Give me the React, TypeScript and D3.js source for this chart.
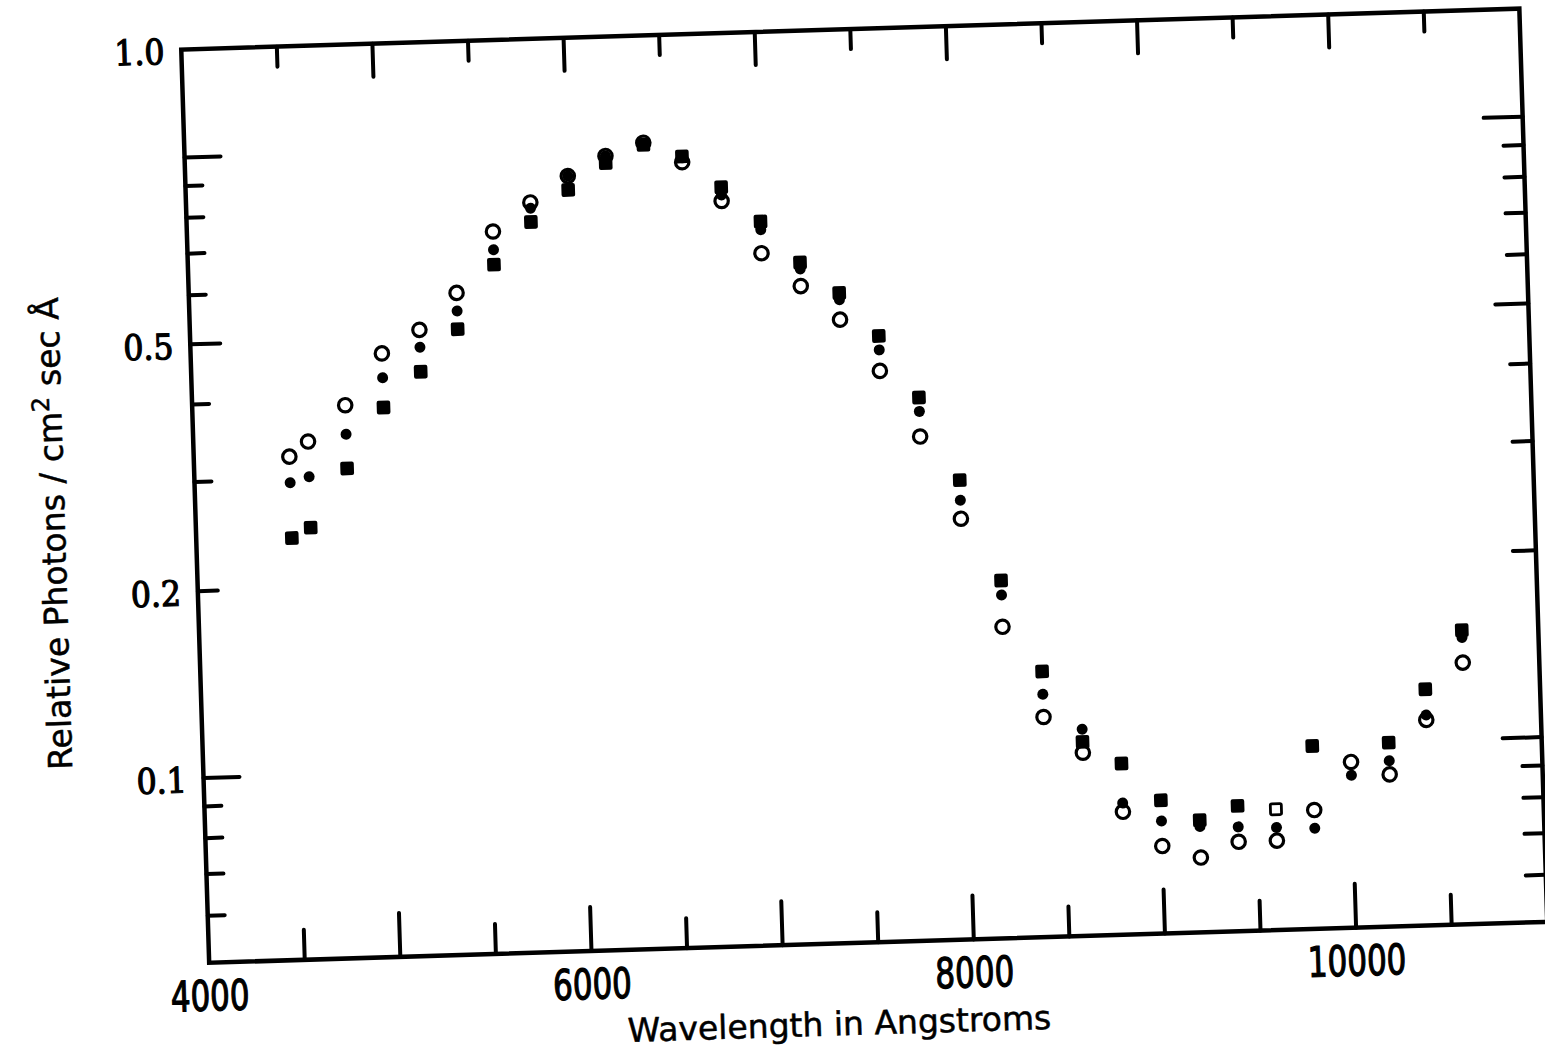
import React from "react";
import * as d3 from "d3";

// wavelengths (Angstrom) of the measured columns
const wavelengths = [
  4500, 4600, 4800, 5000, 5200, 5400, 5600, 5800, 6000, 6200, 6400, 6600, 6800, 7000, 7200, 7400,
  7600, 7800, 8000, 8200, 8400, 8600, 8800, 9000, 9200, 9400, 9600, 9800, 10000, 10200, 10400, 10600,
];

// open circles
const openCircleValues = [
  0.326, 0.344, 0.392, 0.473, 0.514, 0.587, 0.734, 0.814, 0.894, 0.959, 1.003, 0.929, 0.801, 0.657, 0.579, 0.509,
  0.419, 0.327, 0.24, 0.16, 0.114, 0.0994, 0.0795, 0.0697, 0.0665, 0.0702, 0.0702, 0.0783, 0.0932, 0.0886, 0.108, 0.133,
];

// small filled dots
const dotValues = [
  0.296, 0.302, 0.352, 0.432, 0.482, 0.549, 0.686, 0.797, 0.894, 0.959, 1.002, 0.944, 0.819, 0.717, 0.617, 0.548,
  0.453, 0.359, 0.257, 0.18, 0.124, 0.1085, 0.0821, 0.0765, 0.0746, 0.0742, 0.0737, 0.0732, 0.0887, 0.0932, 0.11, 0.146,
];

// filled squares (null = no square at that wavelength)
const squareValues = [
  0.241, 0.25, 0.31, 0.387, 0.44, 0.513, 0.649, 0.757, 0.849, 0.934, 0.995, 0.949, 0.843, 0.739, 0.632, 0.562,
  0.477, 0.378, 0.277, 0.19, 0.135, 0.1035, 0.0951, 0.0826, 0.0764, 0.0802, null, 0.0993, null, 0.0997, 0.121, 0.15,
];

// the single open square
const openSquareWavelengths = [9600];
const openSquareValues = [0.0789];

// axes
const xDomain = [4000, 11000];
const yDomain = [0.05038, 1.4927];
const xMajorTicks = [5000, 6000, 7000, 8000, 9000, 10000];
const xMinorTicks = [4500, 5500, 6500, 7500, 8500, 9500, 10500];
const xTickLabels = ["4000", "6000", "8000", "10000"];
const xTickLabelValues = [4000, 6000, 8000, 10000];
const yTicks = [1.0, 0.9, 0.8, 0.7, 0.6, 0.5, 0.4, 0.3, 0.2, 0.1, 0.09, 0.08, 0.07, 0.06];
const yTickLabels = ["1.0", "0.5", "0.2", "0.1"];
// "1.0" is printed at the top of the frame in the original figure
const yTickLabelValues = [yDomain[1], 0.5, 0.2, 0.1];

const W = 1545;
const H = 1058;
const plot = { left: 194.9, right: 1533.6, top: 29, bottom: 942.6 };

const App = () => {
  const x = d3.scaleLinear().domain(xDomain).range([plot.left, plot.right]);
  const y = d3.scaleLog().domain(yDomain).range([plot.bottom, plot.top]);

  const yTickLen = (v: number) =>
    v === 1 || v === 0.1 ? 36 : v === 0.5 ? 30 : v === 0.2 ? 20 : 17;

  const tickStyle = { stroke: "#000", strokeWidth: 4, strokeLinecap: "round" as const };
  const numFont = "'Liberation Sans Narrow', 'DejaVu Sans Condensed', sans-serif";
  const yNumFont = "'DejaVu Serif Condensed', 'DejaVu Serif', serif";
  const titleFont = "'DejaVu Sans', sans-serif";

  return (
    <svg
      width={W}
      height={H}
      style={{ position: "absolute", left: 0, top: 0, background: "#fff" }}
    >
      <g transform="rotate(-1.75 861.5 485.75)">
        <rect
          x={plot.left}
          y={plot.top}
          width={plot.right - plot.left}
          height={plot.bottom - plot.top}
          fill="none"
          stroke="#000"
          strokeWidth={4.5}
        />

        {/* x ticks, bottom and top, pointing inward */}
        {xMajorTicks.map((t) => (
          <g key={"xM" + t}>
            <line x1={x(t)} x2={x(t)} y1={plot.bottom} y2={plot.bottom - 44} {...tickStyle} />
            <line x1={x(t)} x2={x(t)} y1={plot.top} y2={plot.top + 33} {...tickStyle} />
          </g>
        ))}
        {xMinorTicks.map((t) => (
          <g key={"xm" + t}>
            <line x1={x(t)} x2={x(t)} y1={plot.bottom} y2={plot.bottom - 30} {...tickStyle} />
            <line x1={x(t)} x2={x(t)} y1={plot.top} y2={plot.top + 20} {...tickStyle} />
          </g>
        ))}

        {/* y ticks, left and right */}
        {yTicks.map((t) => (
          <g key={"y" + t}>
            <line x1={plot.left} x2={plot.left + yTickLen(t)} y1={y(t)} y2={y(t)} {...tickStyle} />
            <line
              x1={plot.right}
              x2={plot.right - yTickLen(t) - 3}
              y1={y(t)}
              y2={y(t)}
              {...tickStyle}
            />
          </g>
        ))}

        {/* tick labels */}
        {xTickLabels.map((lab, i) => (
          <text
            key={"xl" + lab}
            transform={`translate(${x(xTickLabelValues[i])},${plot.bottom + 33}) scale(0.82,1)`}
            textAnchor="middle"
            dominantBaseline="central"
            fontFamily={numFont}
            fontSize={42}
            stroke="#000"
            strokeWidth={1.2}
          >
            {lab}
          </text>
        ))}
        {yTickLabels.map((lab, i) => (
          <text
            key={"yl" + lab}
            x={plot.left - 17}
            y={y(yTickLabelValues[i]) + 2}
            textAnchor="end"
            dominantBaseline="central"
            fontFamily={yNumFont}
            fontSize={35}
            stroke="#000"
            strokeWidth={1.2}
          >
            {lab}
          </text>
        ))}

        {/* axis titles */}
        <text
          x={823}
          y={1023}
          textAnchor="middle"
          dominantBaseline="central"
          fontFamily={titleFont}
          fontSize={33}
          stroke="#000"
          strokeWidth={0.5}
        >
          Wavelength in Angstroms
        </text>
        <text
          transform="translate(64,509) rotate(-90)"
          textAnchor="middle"
          fontFamily={titleFont}
          fontSize={33}
          stroke="#000"
          strokeWidth={0.5}
        >
          Relative Photons / cm
          <tspan dy={-12} fontSize={24}>
            2
          </tspan>
          <tspan dy={12}> sec Å</tspan>
        </text>

        {/* filled squares */}
        {wavelengths.map((w, i) =>
          squareValues[i] == null ? null : (
            <rect
              key={"s" + w}
              x={x(w) - 6.8}
              y={y(squareValues[i] as number) - 6.8}
              width={13.6}
              height={13.6}
              rx={2}
              fill="#000"
            />
          )
        )}
        {openSquareWavelengths.map((w, i) => (
          <rect
            key={"os" + w}
            x={x(w) - 5.5}
            y={y(openSquareValues[i]) - 5.5}
            width={11}
            height={11}
            rx={1.5}
            fill="none"
            stroke="#000"
            strokeWidth={2.8}
          />
        ))}

        {/* filled dots */}
        {wavelengths.map((w, i) => (
          <circle key={"d" + w} cx={x(w)} cy={y(dotValues[i])} r={5.5} fill="#000" />
        ))}

        {/* open circles */}
        {wavelengths.map((w, i) => (
          <circle
            key={"o" + w}
            cx={x(w)}
            cy={y(openCircleValues[i])}
            r={6.7}
            fill="none"
            stroke="#000"
            strokeWidth={3.2}
          />
        ))}
      </g>
    </svg>
  );
};

export default App;
